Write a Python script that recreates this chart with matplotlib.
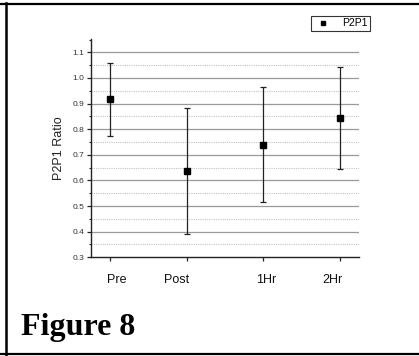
import matplotlib
matplotlib.use("Agg")
import matplotlib.pyplot as plt
import matplotlib.transforms as mtransforms
from matplotlib.lines import Line2D
import numpy as np

categories = ["Pre", "Post", "1Hr", "2Hr"]
x_pos = [1, 2, 3, 4]
means = [0.916, 0.637, 0.739, 0.842]
errors = [0.142, 0.247, 0.224, 0.199]
series_name = "P2P1"
y_label = "P2P1 Ratio"
figure_caption = "Figure 8"
label_offsets_px = [6.7, -10, 2.7, -8.3]

plt.rcParams['font.family'] = ['Liberation Sans', 'DejaVu Sans']

W, H = 419, 356
fig = plt.figure(figsize=(W / 100, H / 100), dpi=100)
fig.patch.set_facecolor("white")

ax = fig.add_axes([91 / W, 1 - 257.3 / H, (359 - 91) / W, (257.3 - 39.3) / H])
ax.set_xlim(0.757, 4.243)
ax.set_ylim(0.3, 1.151)

# grid lines
for v in np.arange(0.4, 1.101, 0.1):
    ax.axhline(v, color="#9a9a9a", lw=0.9, zorder=1)
for v in np.arange(0.35, 1.051, 0.1):
    ax.axhline(v, color="#c4c4c4", lw=0.8, ls=(0, (1, 1)), zorder=1)

ax.errorbar(x_pos, means, yerr=errors, fmt="s", color="black", ms=4,
            ecolor="#222222", elinewidth=0.9, capsize=2.2, capthick=0.9,
            zorder=3, label=series_name)

for s in ["top", "right"]:
    ax.spines[s].set_visible(False)
for s in ["left", "bottom"]:
    ax.spines[s].set_linewidth(1.0)
    ax.spines[s].set_color("#222222")

ax.set_yticks(np.round(np.arange(0.3, 1.101, 0.1), 2))
ax.set_yticklabels([f"{v:.1f}" for v in np.arange(0.3, 1.101, 0.1)])
ax.set_yticks(np.arange(0.35, 1.151, 0.1), minor=True)
ax.tick_params(axis="y", which="major", direction="out", length=3, width=0.9,
               labelsize=6, pad=2, colors="#222222", labelcolor="#333333")
ax.tick_params(axis="y", which="minor", direction="out", length=1.5, width=0.8,
               colors="#222222")

ax.set_xticks(x_pos)
ax.set_xticklabels(categories)
ax.tick_params(axis="x", which="major", direction="out", length=3, width=0.9,
               labelsize=9, pad=9, colors="#222222", labelcolor="#111111")
for lbl, off in zip(ax.get_xticklabels(), label_offsets_px):
    lbl.set_transform(lbl.get_transform() + mtransforms.Affine2D().translate(off, 0))

ax.set_ylabel(y_label, fontsize=9, color="#222222")
ax.yaxis.set_label_coords(-(91 - 65) / (359 - 91), 0.5)

h = Line2D([], [], marker="s", ls="none", color="black", ms=3.5)
leg = fig.legend([h], [series_name], loc="upper left",
                 bbox_to_anchor=(311 / W, 1 - 15.7 / H), fontsize=7.5,
                 frameon=True, fancybox=False, edgecolor="black",
                 borderpad=0.25, handlelength=1.8, handletextpad=0.9,
                 borderaxespad=0)
leg.get_frame().set_linewidth(0.8)

# caption
fig.text(20.7 / W, 1 - 334.5 / H, figure_caption, fontsize=23, fontweight="bold",
         family="Liberation Serif", ha="left", va="baseline", color="black")

# outer frame lines
fig.add_artist(Line2D([0, 1], [1 - 3.5 / H, 1 - 3.5 / H], transform=fig.transFigure,
                      color="black", lw=1.6))
fig.add_artist(Line2D([0, 1], [1 - 354.3 / H, 1 - 354.3 / H], transform=fig.transFigure,
                      color="black", lw=1.6))
fig.add_artist(Line2D([5.5 / W, 5.5 / W], [1 - 2.7 / H, 0], transform=fig.transFigure,
                      color="black", lw=1.8))

fig.savefig("out.png", dpi=100, facecolor="white")
